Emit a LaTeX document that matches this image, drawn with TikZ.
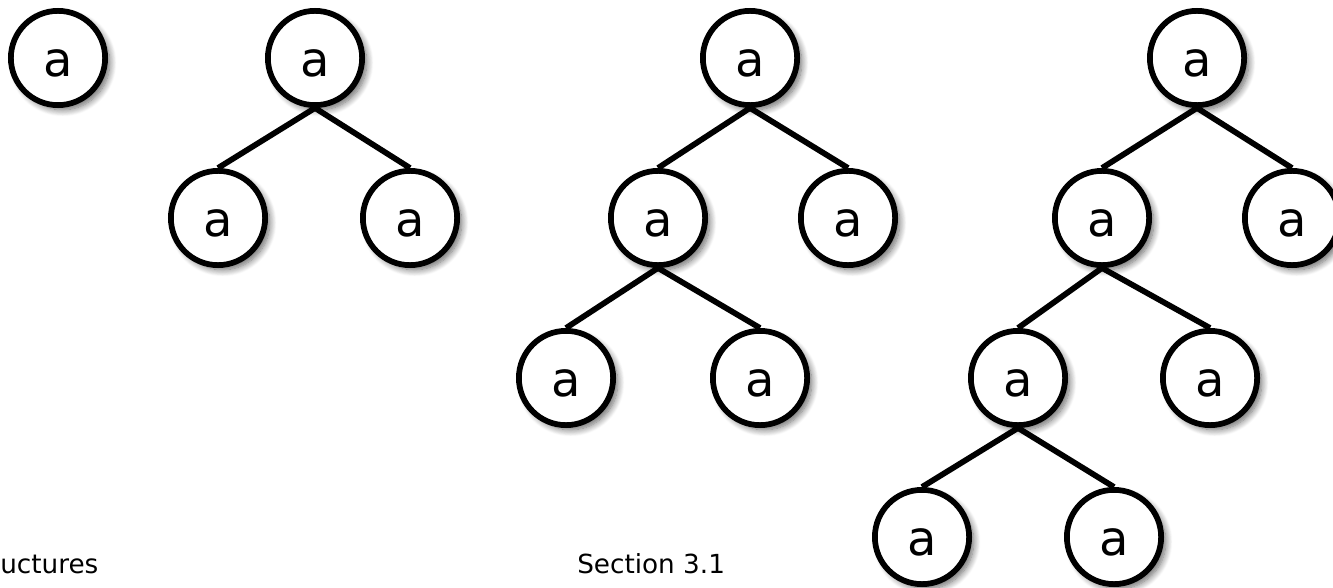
\documentclass[tikz,border=0pt]{standalone}
\usepackage{fontspec}
\setmainfont{DejaVu Sans}
\usetikzlibrary{shadows.blur}
\begin{document}
\begin{tikzpicture}[x=0.75pt,y=-0.75pt,
  vertex/.style={circle, draw=black, line width=4.3pt, fill=white,
    minimum size=70.7pt, inner sep=0pt,
    font=\fontsize{36}{36}\selectfont, text height=27.6pt, text depth=0pt,
    blur shadow={shadow xshift=3.5pt, shadow yshift=-3.5pt,
      shadow blur radius=5pt, shadow blur steps=10, shadow opacity=60}},
  link/.style={line width=4.3pt},
  caption/.style={font=\fontsize{19.7}{22}\selectfont, anchor=base west, inner sep=0pt}]
\useasboundingbox (0,0) rectangle (1333,588);

% single node
\node[vertex] (t1) at (58,58) {a};

% two-level tree
\node[vertex] (t2r) at (315,58) {a};
\node[vertex] (t2l) at (218,218) {a};
\node[vertex] (t2rr) at (410,218) {a};
\draw[link] (t2r.south) -- (t2l.north);
\draw[link] (t2r.south) -- (t2rr.north);

% three-level tree
\node[vertex] (t3r) at (750,58) {a};
\node[vertex] (t3l) at (658,218) {a};
\node[vertex] (t3rr) at (848,218) {a};
\node[vertex] (t3ll) at (566,378) {a};
\node[vertex] (t3lr) at (760,378) {a};
\draw[link] (t3r.south) -- (t3l.north);
\draw[link] (t3r.south) -- (t3rr.north);
\draw[link] (t3l.south) -- (t3ll.north);
\draw[link] (t3l.south) -- (t3lr.north);

% four-level tree
\node[vertex] (t4r) at (1197,58) {a};
\node[vertex] (t4l) at (1102,218) {a};
\node[vertex] (t4rr) at (1292,218) {a};
\node[vertex] (t4ll) at (1018,378) {a};
\node[vertex] (t4lr) at (1210,378) {a};
\node[vertex] (t4lll) at (922,537) {a};
\node[vertex] (t4llr) at (1114,537) {a};
\draw[link] (t4r.south) -- (t4l.north);
\draw[link] (t4r.south) -- (t4rr.north);
\draw[link] (t4l.south) -- (t4ll.north);
\draw[link] (t4l.south) -- (t4lr.north);
\draw[link] (t4ll.south) -- (t4lll.north);
\draw[link] (t4ll.south) -- (t4llr.north);

% footer texts
\node[caption] (foot1) at (0,573) {uctures};
\node[caption] (foot2) at (577,573) {Section 3.1};
\end{tikzpicture}
\end{document}
